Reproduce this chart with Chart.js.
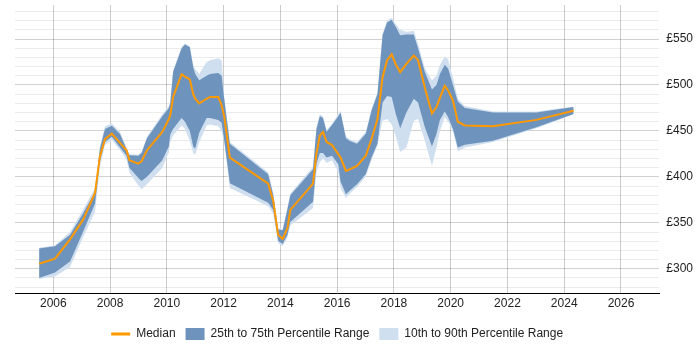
<!DOCTYPE html>
<html lang="en">
<head>
  <meta charset="UTF-8">
  <title>Daily Rate Trend</title>
  <script src="https://cdn.jsdelivr.net/npm/chart.js"></script>
  <style>
    html, body { margin: 0; padding: 0; background: #fff; }
    .wrap { width: 700px; height: 350px; }
  </style>
</head>
<body>

<div class="wrap">
  <canvas id="rateChart"></canvas>
</div>

<script>
  // values (decimal years, £)
  const years = [2005.5, 2006.06, 2006.59, 2007.06, 2007.47, 2007.64, 2007.82, 2008.06, 2008.35, 2008.58,
    2008.68, 2008.99, 2009.11, 2009.3, 2009.84, 2010.07, 2010.12, 2010.22, 2010.52, 2010.64,
    2010.81, 2010.93, 2011.0, 2011.14, 2011.4, 2011.52, 2011.81, 2011.93, 2012.02, 2012.22,
    2013.57, 2013.75, 2013.92, 2014.08, 2014.25, 2014.35, 2015.15, 2015.27, 2015.39, 2015.5,
    2015.63, 2015.82, 2016.04, 2016.12, 2016.31, 2016.45, 2016.7, 2017.01, 2017.21, 2017.42,
    2017.6, 2017.76, 2017.92, 2018.07, 2018.22, 2018.44, 2018.7, 2018.85, 2019.09, 2019.34,
    2019.5, 2019.62, 2019.79, 2019.91, 2020.08, 2020.25, 2020.5, 2021.49, 2023.02, 2024.33];

  const p10 = [289, 291.5, 302, 335, 362, 410, 435, 440, 429, 419,
    404.6, 391, 386.4, 392, 410, 426.5, 438, 445, 456, 452,
    439, 426, 424, 438, 456, 457, 455, 450, 438, 388,
    368, 360, 328, 324.4, 334, 347, 366, 405, 416, 420,
    415, 418, 405, 388, 377, 382, 389, 400, 418, 434,
    461, 463, 457, 444, 427, 432, 461, 463, 439, 412,
    432, 450, 465, 460, 450, 428, 432, 438, 453, 468];

  const p25 = [290, 296, 308, 341, 371, 417, 438, 443.6, 432, 423,
    410, 399, 395.5, 400, 418, 433, 446, 452, 464, 460,
    450, 433, 431, 448, 464, 464, 462, 459, 440, 393,
    371.8, 364, 330.6, 327, 337, 351, 373, 414, 426, 426,
    421, 423, 413.8, 395, 381, 385.3, 392, 403, 421, 436,
    481, 488, 487, 468, 453, 470, 485, 481, 454, 433,
    447, 462, 471, 465, 452, 432, 435, 439.3, 454, 468.5];

  const median = [305.5, 311, 332, 354, 382.7, 422, 441, 447, 437, 429,
    418.2, 414.4, 417, 429, 449, 463, 467, 487, 511.5, 509,
    506, 490, 485, 480, 485, 487, 487, 478, 466, 421,
    392.6, 373.6, 337, 332.4, 344.4, 364, 392.6, 425, 445, 449,
    438, 434.6, 424.7, 421, 406.5, 408.3, 412, 423, 441, 463,
    508.5, 527, 533.4, 522, 514, 523, 532, 527, 497, 469,
    476, 486, 499, 494, 483, 460, 456, 455, 462, 472];

  const p75 = [322, 324.5, 337, 361, 384, 430, 452, 455.7, 446.6, 430,
    423.6, 422.9, 426, 442, 466, 475, 480, 514, 540, 544,
    541, 519, 512, 505, 510, 512, 513, 510, 485, 436,
    402.8, 380, 342.7, 342, 365, 380, 408.3, 452, 466, 464,
    449, 456.5, 466, 470, 442, 439, 436, 447, 472, 490,
    554, 568, 571, 563, 554, 555, 555, 540, 514, 495,
    500, 512, 522, 518, 500, 482, 475, 470, 470, 476];

  const p90 = [323, 325.5, 340, 365, 388, 433, 455, 458, 449, 432,
    425, 424, 427, 444, 468, 477, 482, 516, 541, 545,
    542, 522, 517, 512, 525, 527, 529, 527, 488, 438,
    405, 382, 344, 343, 367, 382, 411, 454, 468, 466,
    451, 458, 468, 472, 444, 441, 438, 449, 474, 492,
    556, 570, 573, 566, 560, 558, 559, 545, 518, 505,
    510, 522, 531, 528, 508, 485, 477, 471, 471, 476.5];

  const yearTicks = [2006, 2008, 2010, 2012, 2014, 2016, 2018, 2020, 2022, 2024, 2026];

  const ORANGE = '#ff9900';
  const DARK = 'rgba(110, 147, 189, 1)';
  const LIGHT = 'rgba(207, 223, 239, 1)';
  const FONT = { family: 'Arial, "Liberation Sans", sans-serif', size: 12 };

  const pts = arr => years.map((x, i) => ({ x: x, y: arr[i] }));

  const band = (label, data, color, fill) => ({
    label: label,
    data: pts(data),
    borderWidth: 0,
    pointRadius: 0,
    backgroundColor: color,
    borderColor: color,
    fill: fill
  });

  // legend sits centred under the plot area, not the whole canvas
  const legendShift = {
    id: 'legendShift',
    afterLayout(chart) {
      const lg = chart.legend;
      const mid = (chart.chartArea.left + chart.chartArea.right) / 2;
      const off = (lg.left + lg.right) / 2 - mid;
      lg.left -= off;
      lg.right -= off;
    }
  };

  new Chart(document.getElementById('rateChart'), {
    type: 'line',
    data: {
      datasets: [
        {
          label: 'Median',
          data: pts(median),
          borderColor: ORANGE,
          backgroundColor: ORANGE,
          borderWidth: 2,
          pointRadius: 0,
          fill: false
        },
        band('25th to 75th Percentile Range', p75, DARK, '+1'),
        band('p25', p25, DARK, false),
        band('10th to 90th Percentile Range', p90, LIGHT, '+1'),
        band('p10', p10, LIGHT, false)
      ]
    },
    plugins: [legendShift],
    options: {
      responsive: true,
      maintainAspectRatio: false,
      animation: false,
      layout: { padding: { left: 15, top: 5, right: 0, bottom: 0 } },
      plugins: {
        tooltip: { enabled: false },
        legend: {
          position: 'bottom',
          labels: {
            usePointStyle: true,
            pointStyleWidth: 19,
            boxHeight: 14,
            padding: 10,
            color: '#222',
            font: FONT,
            generateLabels: () => [
              { text: 'Median', pointStyle: 'line', strokeStyle: ORANGE, fillStyle: ORANGE, lineWidth: 3, fontColor: '#222' },
              { text: '25th to 75th Percentile Range', pointStyle: 'rect', fillStyle: DARK, strokeStyle: DARK, lineWidth: 0, fontColor: '#222' },
              { text: '10th to 90th Percentile Range', pointStyle: 'rect', fillStyle: LIGHT, strokeStyle: LIGHT, lineWidth: 0, fontColor: '#222' }
            ]
          }
        }
      },
      scales: {
        x: {
          type: 'linear',
          min: 2004.65,
          max: 2027.35,
          afterBuildTicks: scale => { scale.ticks = yearTicks.map(v => ({ value: v })); },
          afterFit: scale => { scale.height += 4; },
          grid: { color: 'rgba(0,0,0,0.2)', drawTicks: false },
          border: { color: '#000', width: 1 },
          ticks: {
            padding: 3,
            color: '#222',
            font: FONT,
            callback: v => String(v)
          }
        },
        y: {
          position: 'right',
          min: 273,
          max: 587,
          border: { display: false },
          afterFit: scale => { scale.paddingTop = 0; scale.paddingBottom = 0; },
          grid: {
            drawTicks: false,
            color: ctx => (ctx.tick && ctx.tick.value % 50 === 0) ? 'rgba(0,0,0,0.18)' : 'rgba(0,0,0,0.08)'
          },
          ticks: {
            stepSize: 10,
            includeBounds: false,
            autoSkip: false,
            padding: 7,
            color: '#222',
            font: FONT,
            callback: v => (v % 50 === 0 ? '£' + v : '')
          }
        }
      }
    }
  });
</script>

</body>
</html>
